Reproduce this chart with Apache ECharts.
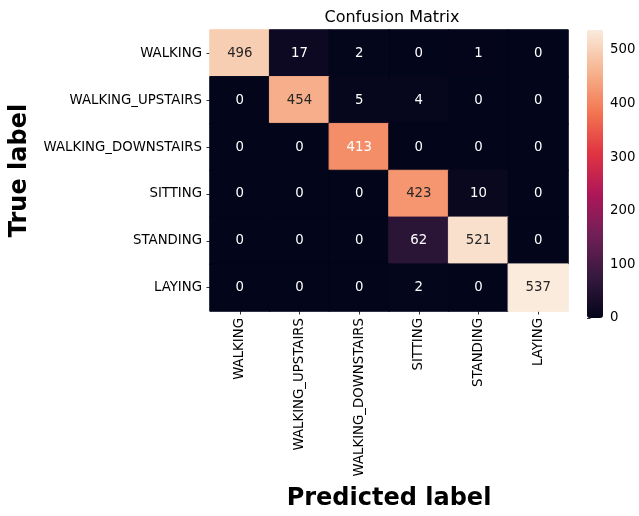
<!DOCTYPE html>
<html>
<head>
<meta charset="utf-8">
<script src="https://cdn.jsdelivr.net/npm/echarts@6/dist/echarts.min.js"></script>
<style>
html,body{margin:0;padding:0;background:#fff;}
#chart{width:639px;height:516px;}
</style>
</head>
<body>
<div id="chart"></div>
<script>
// Activity classes (rows = true label, columns = predicted label)
const classes = ['WALKING', 'WALKING_UPSTAIRS', 'WALKING_DOWNSTAIRS', 'SITTING', 'STANDING', 'LAYING'];

const rowWalking    = [496, 17, 2, 0, 1, 0];
const rowUpstairs   = [0, 454, 5, 4, 0, 0];
const rowDownstairs = [0, 0, 413, 0, 0, 0];
const rowSitting    = [0, 0, 0, 423, 10, 0];
const rowStanding   = [0, 0, 0, 62, 521, 0];
const rowLaying     = [0, 0, 0, 2, 0, 537];

const colorbarTicks = [0, 100, 200, 300, 400, 500];

const rows = [rowWalking, rowUpstairs, rowDownstairs, rowSitting, rowStanding, rowLaying];
const vmin = 0;
const vmax = Math.max(...rows.flat());

// "rocket" colour ramp, evenly spaced stops
const rocket = ['#03051a', '#35193e', '#701f57', '#ad1759', '#e13342', '#f37651', '#f6b48f', '#faebdd'];

// Cell data; a same-coloured outline closes the hairline gaps between cells,
// and the annotation colour switches to dark on the light cells
const data = [];
rows.forEach((row, r) => {
  row.forEach((v, c) => {
    const t = (v - vmin) / (vmax - vmin);
    const cellColor = echarts.color.lerp(t, rocket);
    data.push({
      value: [c, r, v],
      itemStyle: { borderColor: cellColor, borderWidth: 1 },
      label: { color: t > 0.78 ? '#262626' : '#ffffff' }
    });
  });
});

const font = 'DejaVu Sans';
const chart = echarts.init(document.getElementById('chart'), null, { renderer: 'canvas' });

chart.setOption({
  animation: false,
  textStyle: { fontFamily: font },
  title: {
    text: 'Confusion Matrix',
    left: 387, top: 5, textAlign: 'center',
    textStyle: { fontFamily: font, fontSize: 16, fontWeight: 'normal', color: '#000' }
  },
  grid: [
    { left: 208, top: 30, width: 360, height: 288 },
    { left: 587, top: 30, width: 16, height: 288, show: false }
  ],
  xAxis: [
    {
      type: 'category', gridIndex: 0, data: classes,
      name: 'Predicted label', nameLocation: 'middle', nameGap: 176,
      nameTextStyle: { fontFamily: font, fontSize: 24, fontWeight: 'bold', color: '#000' },
      axisLine: { show: false },
      axisTick: { show: true, alignWithLabel: true, length: 3.5, lineStyle: { color: '#000', width: 0.8 } },
      axisLabel: { rotate: 90, fontSize: 13.3, color: '#000', fontFamily: font, margin: 7, interval: 0 },
      splitLine: { show: false }
    },
    { type: 'value', gridIndex: 1, show: false, min: 0, max: 1 }
  ],
  yAxis: [
    {
      type: 'category', gridIndex: 0, data: classes, inverse: true,
      name: 'True label', nameLocation: 'middle', nameGap: 178, nameRotate: 90,
      nameTextStyle: { fontFamily: font, fontSize: 24, fontWeight: 'bold', color: '#000' },
      axisLine: { show: false },
      axisTick: { show: true, alignWithLabel: true, length: 3.5, lineStyle: { color: '#000', width: 0.8 } },
      axisLabel: { fontSize: 13.3, color: '#000', fontFamily: font, margin: 8, interval: 0 },
      splitLine: { show: false }
    },
    {
      // colour bar scale
      type: 'value', gridIndex: 1, position: 'right', min: vmin, max: vmax,
      axisLine: { show: false },
      axisTick: { show: true, length: 3.5, customValues: colorbarTicks, lineStyle: { color: '#000', width: 0.8 } },
      axisLabel: {
        fontSize: 13.3, color: '#000', fontFamily: font, margin: 7,
        customValues: colorbarTicks
      },
      splitLine: { show: false }
    }
  ],
  visualMap: {
    type: 'continuous', seriesIndex: 0,
    min: vmin, max: vmax, calculable: false,
    orient: 'vertical', left: 587, top: 30,
    padding: 0, itemGap: 0,
    itemWidth: 16, itemHeight: 288,
    showLabel: false,
    inRange: { color: rocket }
  },
  series: [
    {
      type: 'heatmap', xAxisIndex: 0, yAxisIndex: 0,
      data: data,
      label: { show: true, fontSize: 13.3, fontFamily: font },
      emphasis: { disabled: true }
    },
    {
      type: 'scatter', xAxisIndex: 1, yAxisIndex: 1,
      data: [], silent: true
    }
  ]
});
</script>
</body>
</html>
